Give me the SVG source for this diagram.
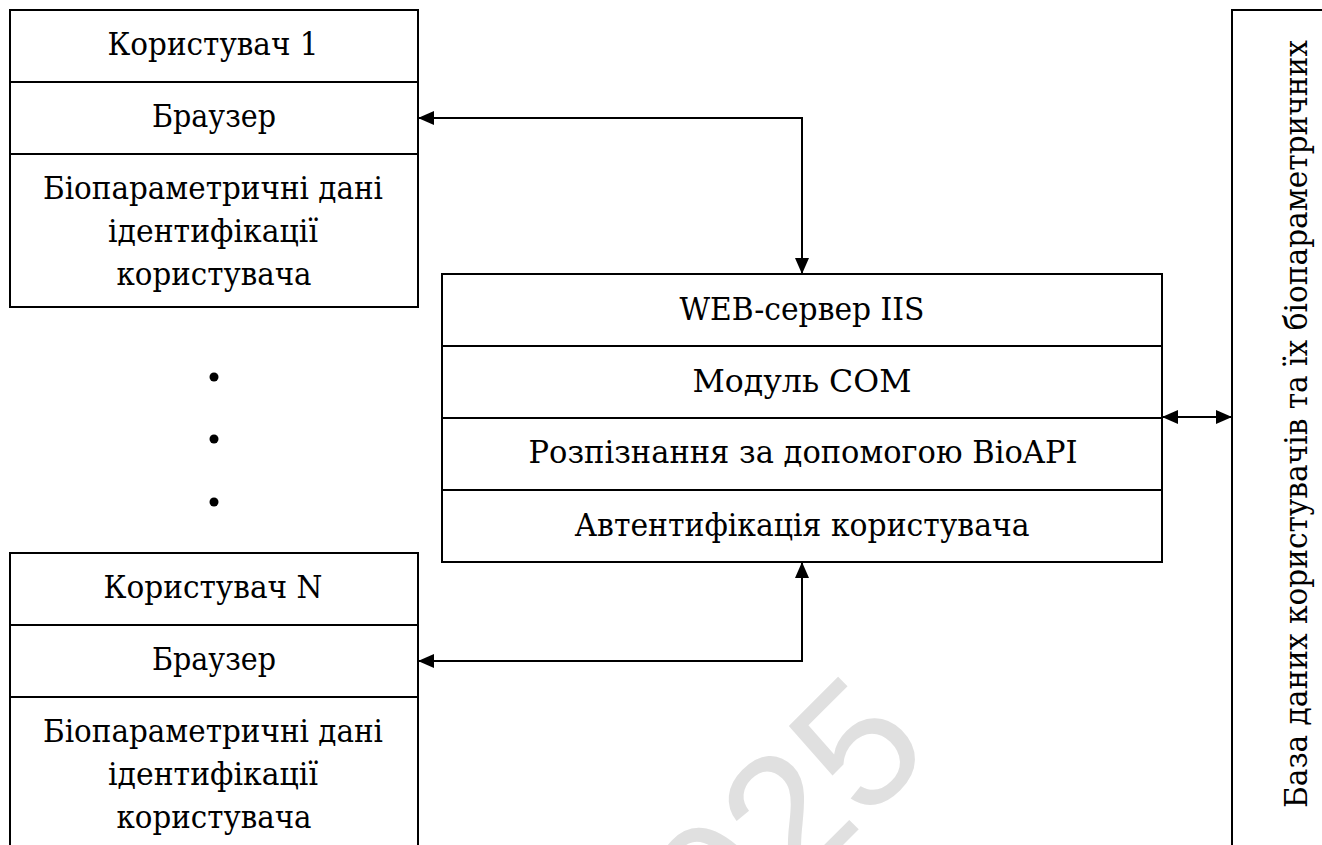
<svg xmlns="http://www.w3.org/2000/svg" width="1322" height="845" viewBox="0 0 1322 845">
<defs>
<style>
.box{fill:#fff;stroke:#000;stroke-width:2}
.ln{fill:none;stroke:#000;stroke-width:2}
.t{font-family:"DejaVu Serif","Liberation Serif",serif;font-size:31.5px;fill:#000;text-anchor:middle}
.wm{font-family:"Liberation Sans",Arial,sans-serif;font-size:178px;fill:#e0e0e0;text-anchor:middle}
</style>
<marker id="ah" viewBox="0 0 16 14" refX="16" refY="7" markerWidth="16" markerHeight="14" markerUnits="userSpaceOnUse" orient="auto-start-reverse">
<path d="M0,0 L16,7 L0,14 Z" fill="#000"/>
</marker>
</defs>
<rect width="1322" height="845" fill="#fff"/>
<text class="wm" transform="translate(795,893) rotate(-45)">2025</text>

<g id="user1">
<rect class="box" x="10" y="10" width="408" height="297"/>
<line class="ln" x1="10" y1="82" x2="418" y2="82"/>
<line class="ln" x1="10" y1="154" x2="418" y2="154"/>
<text class="t" x="213" y="55" textLength="211" lengthAdjust="spacingAndGlyphs">Користувач 1</text>
<text class="t" x="214" y="127" textLength="124" lengthAdjust="spacingAndGlyphs">Браузер</text>
<text class="t" x="213" y="199" textLength="340" lengthAdjust="spacingAndGlyphs">Біопараметричні дані</text>
<text class="t" x="213" y="242" textLength="210" lengthAdjust="spacingAndGlyphs">ідентифікації</text>
<text class="t" x="214" y="285" textLength="195" lengthAdjust="spacingAndGlyphs">користувача</text>
</g>

<g id="dots">
<circle cx="214" cy="377" r="4.5"/>
<circle cx="214" cy="439" r="4.5"/>
<circle cx="214" cy="502" r="4.5"/>
</g>

<g id="userN">
<rect class="box" x="10" y="553" width="408" height="320"/>
<line class="ln" x1="10" y1="625" x2="418" y2="625"/>
<line class="ln" x1="10" y1="697" x2="418" y2="697"/>
<text class="t" x="213" y="598" textLength="219" lengthAdjust="spacingAndGlyphs">Користувач N</text>
<text class="t" x="214" y="670" textLength="124" lengthAdjust="spacingAndGlyphs">Браузер</text>
<text class="t" x="213" y="742" textLength="340" lengthAdjust="spacingAndGlyphs">Біопараметричні дані</text>
<text class="t" x="213" y="785" textLength="210" lengthAdjust="spacingAndGlyphs">ідентифікації</text>
<text class="t" x="214" y="828" textLength="195" lengthAdjust="spacingAndGlyphs">користувача</text>
</g>

<g id="server">
<rect class="box" x="442" y="274" width="720" height="288"/>
<line class="ln" x1="442" y1="346" x2="1162" y2="346"/>
<line class="ln" x1="442" y1="418" x2="1162" y2="418"/>
<line class="ln" x1="442" y1="490" x2="1162" y2="490"/>
<text class="t" x="802" y="320" textLength="245" lengthAdjust="spacingAndGlyphs">WEB-сервер IIS</text>
<text class="t" x="802" y="392" textLength="219" lengthAdjust="spacingAndGlyphs">Модуль COM</text>
<text class="t" x="803" y="463" textLength="549" lengthAdjust="spacingAndGlyphs">Розпізнання за допомогою BioAPI</text>
<text class="t" x="802" y="536" textLength="455" lengthAdjust="spacingAndGlyphs">Автентифікація користувача</text>
</g>

<g id="database">
<rect class="box" x="1232" y="10" width="120" height="870"/>
<text class="t" transform="translate(1307,424) rotate(-90)" textLength="768" lengthAdjust="spacingAndGlyphs">База даних користувачів та їх біопараметричних</text>
</g>

<g id="connectors">
<path class="ln" d="M418,118 H802 V274" marker-start="url(#ah)" marker-end="url(#ah)"/>
<path class="ln" d="M418,661 H802 V562" marker-start="url(#ah)" marker-end="url(#ah)"/>
<path class="ln" d="M1162,417 H1232" marker-start="url(#ah)" marker-end="url(#ah)"/>
</g>
</svg>
